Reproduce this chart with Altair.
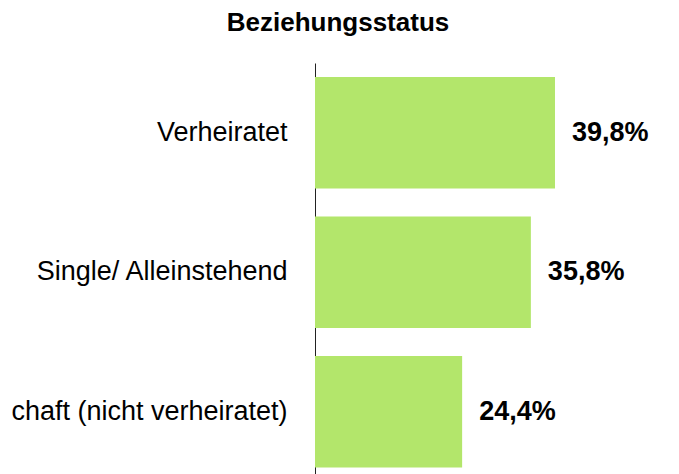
import altair as alt
import pandas as pd

categories = ["Verheiratet", "Single/ Alleinstehend", "chaft (nicht verheiratet)"]
values = [39.8, 35.8, 24.4]
value_labels = ["39,8%", "35,8%", "24,4%"]

df = pd.DataFrame({"cat": categories, "val": values, "lab": value_labels})

FONT = "Liberation Sans, Arial, sans-serif"

base = alt.Chart(df).encode(
    y=alt.Y(
        "cat:N",
        sort=categories,
        scale=alt.Scale(paddingInner=0.2, paddingOuter=0.1),
        axis=alt.Axis(
            title=None,
            domain=True,
            domainColor="#222222",
            domainWidth=1,
            ticks=False,
            grid=False,
            labelPadding=28,
            labelFont=FONT,
            labelFontSize=27,
            labelColor="black",
            labelLimit=500,
        ),
    )
)

bars = base.mark_bar(color="#B3E66B").encode(
    x=alt.X("val:Q", scale=alt.Scale(domain=[0, 50]), axis=None)
)

text = base.mark_text(
    align="left", baseline="middle", dx=17, font=FONT, fontSize=27,
    fontWeight="bold", color="black"
).encode(x=alt.X("val:Q"), text="lab:N")

chart = (bars + text).properties(
    width=301.5,
    height=418.5,
    title=alt.TitleParams(
        text="Beziehungsstatus",
        font=FONT,
        fontSize=26,
        fontWeight="bold",
        color="black",
        anchor="start",
        frame="group",
        align="center",
        dx=23,
        dy=26,
        baseline="alphabetic",
        offset=32,
    ),
    autosize=alt.AutoSizeParams(type="none"),
    padding={"left": 307, "top": 55, "right": 50, "bottom": 0},
).configure_view(stroke=None)

chart.save("out.html", embed_options={"renderer": "svg", "actions": False})
